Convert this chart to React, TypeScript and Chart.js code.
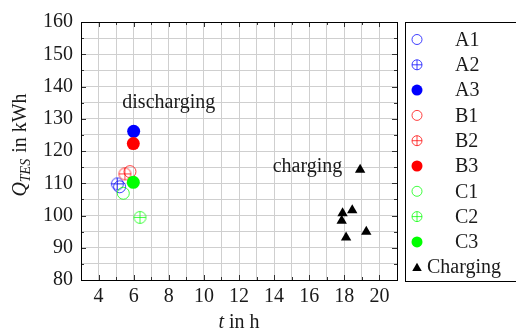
import { useEffect, useRef } from "react";
import { Chart, registerables } from "chart.js";

Chart.register(...registerables);

// Discharging runs: time t (h) and stored energy Q_TES (kWh)
const seriesNames = ["A1", "A2", "A3", "B1", "B2", "B3", "C1", "C2", "C3"];
const seriesT = [5.2, 5.07, 6.0, 5.79, 5.5, 5.98, 5.41, 6.36, 5.98];
const seriesQ = [108.9, 109.8, 126.1, 113.6, 112.9, 122.3, 106.9, 99.4, 110.3];
const seriesRgb = ["0,0,255", "0,0,255", "0,0,255", "255,0,0", "255,0,0", "255,0,0", "0,255,0", "0,255,0", "0,255,0"];
const seriesMarks = ["open", "plus", "filled", "open", "plus", "filled", "open", "plus", "filled"];

// Charging runs
const chargingName = "Charging";
const chargingT = [18.9, 18.45, 17.9, 17.85, 18.1, 19.25];
const chargingQ = [114.2, 101.6, 100.7, 98.4, 93.2, 95.0];

// Axis ranges and labelled ticks
const xRange = [3, 21];
const yRange = [80, 160];
const xTickLabels = [4, 6, 8, 10, 12, 14, 16, 18, 20];
const yTickLabels = [80, 90, 100, 110, 120, 130, 140, 150, 160];

const FONT = '"Liberation Serif", "Times New Roman", serif';
const TEXT = "#1a1a1a";

function makeOplus(rgb: string, r: number): HTMLCanvasElement {
  const size = Math.ceil(r * 2 + 3);
  const c = document.createElement("canvas");
  c.width = size;
  c.height = size;
  const g = c.getContext("2d")!;
  const m = size / 2;
  g.strokeStyle = `rgba(${rgb},0.75)`;
  g.lineWidth = 1;
  g.beginPath();
  g.arc(m, m, r, 0, Math.PI * 2);
  g.moveTo(m - r, m);
  g.lineTo(m + r, m);
  g.moveTo(m, m - r);
  g.lineTo(m, m + r);
  g.stroke();
  return c;
}

function drawMark(ctx: CanvasRenderingContext2D, kind: string, rgb: string, x: number, y: number, r: number) {
  ctx.save();
  if (kind === "filled") {
    ctx.fillStyle = `rgb(${rgb})`;
    ctx.beginPath();
    ctx.arc(x, y, r + 0.5, 0, Math.PI * 2);
    ctx.fill();
  } else {
    ctx.strokeStyle = `rgba(${rgb},0.75)`;
    ctx.lineWidth = 1;
    ctx.beginPath();
    ctx.arc(x, y, r, 0, Math.PI * 2);
    if (kind === "plus") {
      ctx.moveTo(x - r, y);
      ctx.lineTo(x + r, y);
      ctx.moveTo(x, y - r);
      ctx.lineTo(x, y + r);
    }
    ctx.stroke();
  }
  ctx.restore();
}

function drawTriangle(ctx: CanvasRenderingContext2D, x: number, y: number, r: number) {
  ctx.save();
  ctx.fillStyle = "#000";
  ctx.beginPath();
  ctx.moveTo(x, y - r);
  ctx.lineTo(x + r * 0.866, y + r / 2);
  ctx.lineTo(x - r * 0.866, y + r / 2);
  ctx.closePath();
  ctx.fill();
  ctx.restore();
}

// Frame, inner tick marks, axis titles, notes and legend
const decorations = {
  id: "decorations",
  beforeDatasetsDraw(chart: any) {
    const { ctx, chartArea: a, scales } = chart;
    ctx.save();
    ctx.strokeStyle = "#333";
    ctx.lineWidth = 1;
    ctx.beginPath();
    for (const t of scales.x.ticks) {
      const px = Math.round(scales.x.getPixelForValue(t.value)) + 0.5;
      const len = t.value % 2 === 0 ? 5 : 3;
      ctx.moveTo(px, a.bottom);
      ctx.lineTo(px, a.bottom - len);
      ctx.moveTo(px, a.top);
      ctx.lineTo(px, a.top + len);
    }
    for (const t of scales.y.ticks) {
      const py = Math.round(scales.y.getPixelForValue(t.value)) + 0.5;
      const len = t.value % 10 === 0 ? 5 : 3;
      ctx.moveTo(a.left, py);
      ctx.lineTo(a.left + len, py);
      ctx.moveTo(a.right, py);
      ctx.lineTo(a.right - len, py);
    }
    ctx.stroke();
    ctx.strokeStyle = "#000";
    ctx.strokeRect(Math.round(a.left) + 0.5, Math.round(a.top) + 0.5, Math.round(a.right - a.left), Math.round(a.bottom - a.top));
    ctx.restore();
  },
  afterDraw(chart: any) {
    const { ctx, chartArea: a, scales } = chart;
    ctx.save();
    ctx.fillStyle = TEXT;

    // x title: "t in h"
    ctx.textBaseline = "alphabetic";
    ctx.font = `italic 20px ${FONT}`;
    const wT = ctx.measureText("t").width;
    ctx.font = `20px ${FONT}`;
    const wRest = ctx.measureText(" in h").width;
    let x0 = (a.left + a.right) / 2 - (wT + wRest) / 2;
    ctx.font = `italic 20px ${FONT}`;
    ctx.fillText("t", x0, 328);
    ctx.font = `20px ${FONT}`;
    ctx.fillText(" in h", x0 + wT, 328);

    // y title: "Q_TES in kWh", rotated
    ctx.save();
    ctx.translate(26, 145);
    ctx.rotate(-Math.PI / 2);
    ctx.font = `italic 20px ${FONT}`;
    const wQ = ctx.measureText("Q").width;
    ctx.font = `italic 14px ${FONT}`;
    const wS = ctx.measureText("TES").width;
    ctx.font = `20px ${FONT}`;
    const wI = ctx.measureText(" in kWh").width;
    let s = -(wQ + wS + 1 + wI) / 2;
    ctx.font = `italic 20px ${FONT}`;
    ctx.fillText("Q", s, 0);
    ctx.font = `italic 14px ${FONT}`;
    ctx.fillText("TES", s + wQ, 4);
    ctx.font = `20px ${FONT}`;
    ctx.fillText(" in kWh", s + wQ + wS + 1, 0);
    ctx.restore();

    // notes
    ctx.font = `20px ${FONT}`;
    ctx.textAlign = "center";
    ctx.fillText("discharging", scales.x.getPixelForValue(8), scales.y.getPixelForValue(133.3));
    ctx.fillText("charging", scales.x.getPixelForValue(15.9), scales.y.getPixelForValue(113.6));
    ctx.textAlign = "left";

    // legend
    const lx = 405.5;
    const ly = 22.5;
    ctx.strokeStyle = "#000";
    ctx.lineWidth = 1;
    ctx.strokeRect(lx, ly, 130, 259);
    const step = 25.3;
    ctx.textBaseline = "middle";
    seriesNames.forEach((name, i) => {
      const cy = 39.5 + i * step;
      drawMark(ctx, seriesMarks[i], seriesRgb[i], 417, cy, 5);
      ctx.fillStyle = TEXT;
      ctx.fillText(name, 455, cy + 1);
    });
    const cy = 39.5 + seriesNames.length * step;
    drawTriangle(ctx, 417, cy + 1, 5.5);
    ctx.fillStyle = TEXT;
    ctx.fillText(chargingName, 427, cy + 1);
    ctx.restore();
  },
};

export default function App() {
  const ref = useRef<HTMLCanvasElement>(null);

  useEffect(() => {
    const datasets: any[] = seriesNames.map((name, i) => {
      const mark = seriesMarks[i];
      const rgb = seriesRgb[i];
      const base: any = {
        label: name,
        data: seriesT.slice(i, i + 1).map((t, k) => ({ x: t, y: seriesQ[i + k] })),
        order: 20 - i,
      };
      if (mark === "plus") {
        base.pointStyle = makeOplus(rgb, 6);
      } else if (mark === "open") {
        base.pointStyle = "circle";
        base.pointRadius = 6;
        base.pointBackgroundColor = "rgba(0,0,0,0)";
        base.pointBorderColor = `rgba(${rgb},0.75)`;
        base.pointBorderWidth = 1;
      } else {
        base.pointStyle = "circle";
        base.pointRadius = 6.5;
        base.pointBackgroundColor = `rgb(${rgb})`;
        base.pointBorderColor = `rgb(${rgb})`;
        base.pointBorderWidth = 0;
      }
      return base;
    });
    datasets.push({
      label: chargingName,
      data: chargingT.map((t, k) => ({ x: t, y: chargingQ[k] })),
      pointStyle: "triangle",
      pointRadius: 6,
      pointBackgroundColor: "#000",
      pointBorderColor: "#000",
      pointBorderWidth: 0,
      order: 0,
    });

    const chart = new Chart(ref.current!, {
      type: "scatter",
      data: { datasets },
      plugins: [decorations],
      options: {
        animation: false,
        responsive: false,
        events: [],
        layout: { padding: { left: 0, top: 22, right: 119, bottom: 0 } },
        plugins: { legend: { display: false }, tooltip: { enabled: false } },
        scales: {
          x: {
            type: "linear",
            min: xRange[0],
            max: xRange[1],
            afterFit: (s: any) => {
              s.height = 51;
            },
            ticks: {
              stepSize: 1,
              autoSkip: false,
              maxRotation: 0,
              padding: 5,
              color: TEXT,
              font: { family: FONT, size: 20 },
              callback: (v: any) => (xTickLabels.includes(Number(v)) ? String(v) : ""),
            },
            grid: { color: "#cfcfcf", lineWidth: 1, drawTicks: false },
            border: { display: false },
          },
          y: {
            type: "linear",
            min: yRange[0],
            max: yRange[1],
            afterFit: (s: any) => {
              s.width = 81;
            },
            ticks: {
              stepSize: 5,
              autoSkip: false,
              padding: 8,
              color: TEXT,
              font: { family: FONT, size: 20 },
              callback: (v: any) => (yTickLabels.includes(Number(v)) ? String(v) : ""),
            },
            grid: { color: "#cfcfcf", lineWidth: 1, drawTicks: false },
            border: { display: false },
          },
        },
      },
    });
    return () => chart.destroy();
  }, []);

  return (
    <div style={{ position: "fixed", left: 0, top: 0, width: 516, height: 331, background: "#fff" }}>
      <canvas ref={ref} width={516} height={331} />
    </div>
  );
}
